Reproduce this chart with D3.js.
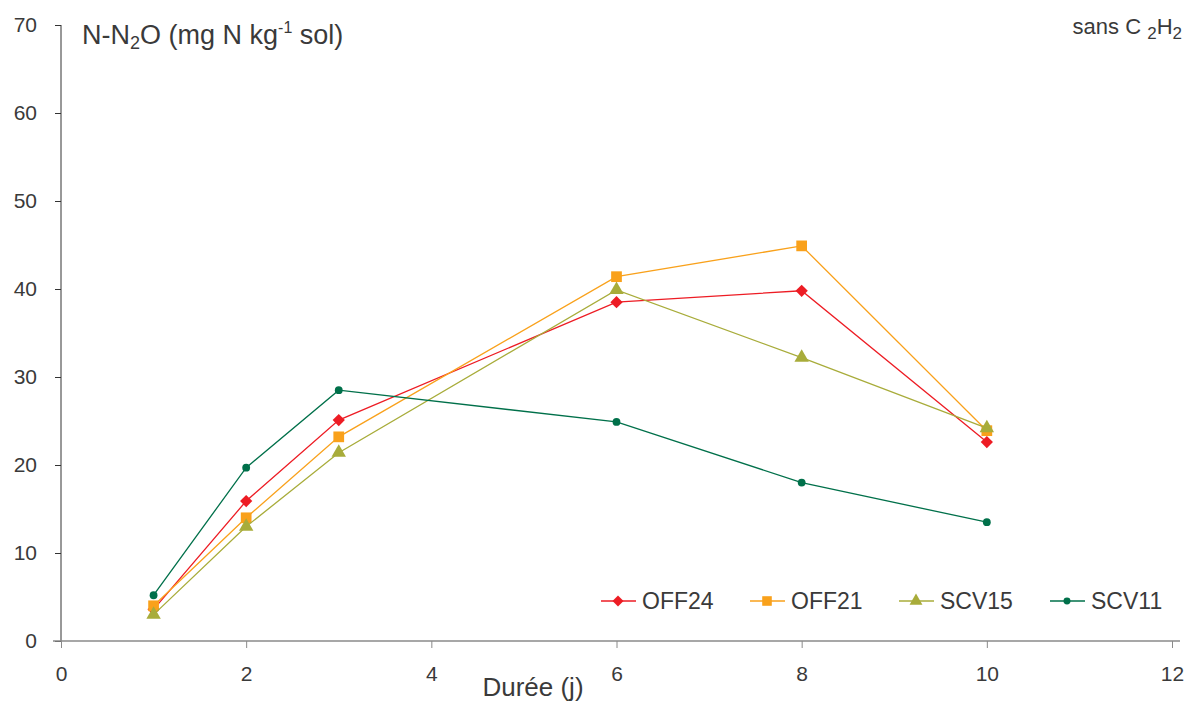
<!DOCTYPE html>
<html>
<head>
<meta charset="utf-8">
<script src="https://cdn.jsdelivr.net/npm/d3@7"></script>
<style>
body { margin:0; background:#fff; }
svg text { font-family: "Liberation Sans", Arial, sans-serif; fill:#3a3a3a; }
</style>
</head>
<body>
<div id="chart-area"></div>
<script>
//Data
var days = [1, 2, 3, 6, 8, 10];
var off24 = [3.6, 15.9, 25.1, 38.5, 39.8, 22.6];
var off21 = [4.0, 14.0, 23.2, 41.4, 44.9, 23.9];
var scv15 = [3.0, 13.0, 21.4, 39.9, 32.2, 24.2];
var scv11 = [5.2, 19.7, 28.5, 24.9, 18.0, 13.5];
var xTicks = [0, 2, 4, 6, 8, 10, 12];
var yTicks = [0, 10, 20, 30, 40, 50, 60, 70];

var series = [
    { name:"OFF24", values:off24, color:"#ed1c24", symbol:d3.symbolSquare, size:75, rot:45 },
    { name:"OFF21", values:off21, color:"#f9a11b", symbol:d3.symbolSquare, size:115, rot:0 },
    { name:"SCV15", values:scv15, color:"#a8ac3a", symbol:d3.symbolTriangle, size:90, rot:0 },
    { name:"SCV11", values:scv11, color:"#00704a", symbol:d3.symbolCircle, size:48, rot:0 }
];

//Margin
var margin = { left:61, right:15, top:25, bottom:61 },
    width = 1187 - margin.left - margin.right,
    height = 702 - margin.top - margin.bottom;

var svg = d3.select("#chart-area").append("svg")
    .attr("width", 1187)
    .attr("height", 702);
var g = svg.append("g")
    .attr("transform", "translate(" + margin.left + "," + margin.top + ")");

//Scales
var x = d3.scaleLinear().domain([0, 12]).range([0, 1111]);
var y = d3.scaleLinear().domain([0, 70]).range([height, 0]);

//Y axis
var yAxis = g.append("g")
    .call(d3.axisLeft(y).tickValues(yTicks).tickSize(6).tickPadding(18));
yAxis.select(".domain").attr("stroke", "#333").attr("d", "M0," + y(70) + "V" + y(0));
yAxis.selectAll(".tick line").attr("stroke", "#333");
yAxis.selectAll("text").style("font-size", "21px").attr("fill", "#3a3a3a");

//X axis
var xAxis = g.append("g")
    .attr("transform", "translate(0," + height + ")")
    .call(d3.axisBottom(x).tickValues(xTicks).tickSize(7).tickPadding(18));
xAxis.select(".domain").attr("stroke", "#8a8a8a").attr("stroke-width", 1.5)
    .attr("d", "M-8,0H" + (x(12) + 8));
xAxis.selectAll(".tick line").attr("stroke", "#8a8a8a");
xAxis.selectAll("text").style("font-size", "21px").attr("fill", "#3a3a3a");

//Axis titles
svg.append("text")
    .attr("x", 533).attr("y", 696)
    .attr("text-anchor", "middle")
    .style("font-size", "26px")
    .text("Durée (j)");

var title = svg.append("text")
    .attr("x", 82).attr("y", 44)
    .style("font-size", "27px");
title.append("tspan").text("N-N");
title.append("tspan").attr("dy", 5).style("font-size", "18px").text("2");
title.append("tspan").attr("dy", -5).text("O (mg N kg");
title.append("tspan").attr("dy", -11).style("font-size", "16px").text("-1");
title.append("tspan").attr("dy", 11).text(" sol)");

var note = svg.append("text")
    .attr("x", 1182).attr("y", 34)
    .attr("text-anchor", "end")
    .style("font-size", "22px");
note.append("tspan").text("sans C ");
note.append("tspan").attr("dy", 5).style("font-size", "17px").text("2");
note.append("tspan").attr("dy", -5).text("H");
note.append("tspan").attr("dy", 5).style("font-size", "17px").text("2");

//Lines and markers
var line = d3.line()
    .x((d, i) => x(days[i]))
    .y((d) => y(d));

series.forEach((s) => {
    g.append("path")
        .attr("d", line(s.values))
        .attr("fill", "none")
        .attr("stroke", s.color)
        .attr("stroke-width", 1.3);
    g.selectAll(null)
        .data(s.values)
        .enter().append("path")
        .attr("transform", (d, i) => "translate(" + x(days[i]) + "," + y(d) + ") rotate(" + s.rot + ")")
        .attr("d", d3.symbol().type(s.symbol).size(s.size))
        .attr("fill", s.color);
});

//Legend
var legendX = [601, 750, 899, 1050];
series.forEach((s, i) => {
    var lg = svg.append("g").attr("transform", "translate(" + legendX[i] + ",601)");
    lg.append("line").attr("x1", 0).attr("x2", 35)
        .attr("stroke", s.color).attr("stroke-width", 1.3);
    lg.append("path").attr("transform", "translate(17,0) rotate(" + s.rot + ")")
        .attr("d", d3.symbol().type(s.symbol).size(s.size * 0.8))
        .attr("fill", s.color);
    lg.append("text").attr("x", 41).attr("y", 8)
        .style("font-size", "23px")
        .text(s.name);
});
</script>
</body>
</html>
